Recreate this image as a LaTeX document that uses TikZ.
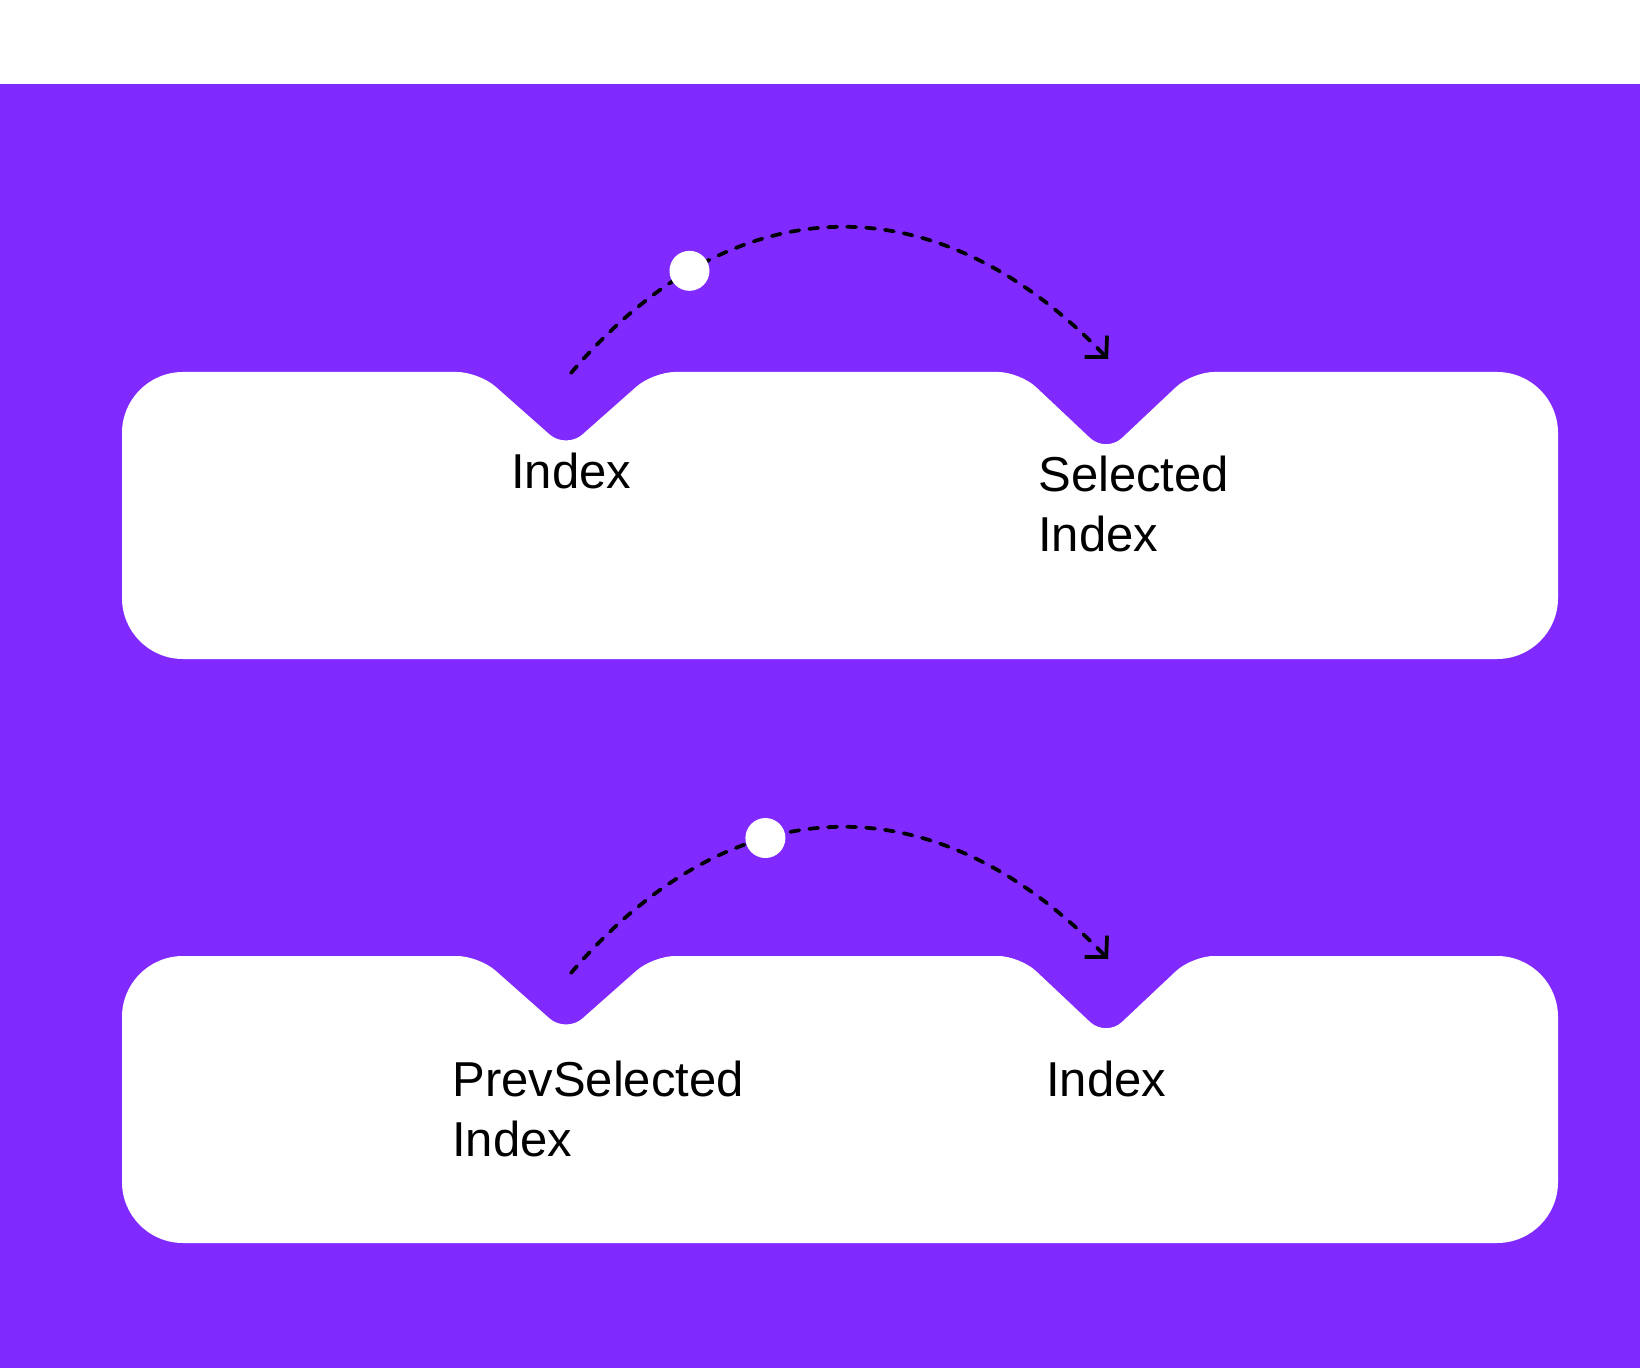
\documentclass[tikz,border=0pt]{standalone}
\usepackage{fontspec}
\setmainfont{Liberation Sans}
\usetikzlibrary{arrows.meta}
\definecolor{TabPurple}{RGB}{128,42,255}

\begin{document}
\begin{tikzpicture}[x=0.02cm, y=-0.02cm,
    tab/.style={fill=white},
    lbl/.style={anchor=north west, inner sep=0pt, align=left,
                font=\fontsize{27.9}{34.1}\selectfont},
    flow/.style={black, line width=0.075cm, line cap=round,
                 dash pattern=on 0.18cm off 0.2cm,
                 -{Straight Barb[length=0.3cm, width=0.62cm]}},
    knob/.style={circle, fill=white, minimum size=0.8cm, inner sep=0pt}
  ]
  \fill[white] (0,0) rectangle (1640,1368);
  \fill[TabPurple] (0,84) rectangle (1640,1368);

  % two tab bars with notches
  \foreach \dy in {0,584}{
    \fill[tab, shift={(0,\dy)}] (122,515)
      [rounded corners=1.22cm] -- (122,372) -- (300,372)
      [rounded corners=0.44cm] -- (479,372) -- (566,449) -- (653,372)
        -- (1020,372) -- (1106,453) -- (1192,372) -- (1380,372)
      [rounded corners=1.22cm] -- (1558,372) -- (1558,659) -- (122,659) -- cycle;
  }

  \coordinate (src1) at (571,373);
  \coordinate (dst1) at (1108,359);
  \coordinate (src2) at (571,973);
  \coordinate (dst2) at (1108,959);

  \draw[flow] (src1) .. controls +(164,-192) and +(-170,-178) .. (dst1)
        node[knob, pos=0.23] (knob1) {};
  \draw[flow] (src2) .. controls +(164,-192) and +(-170,-178) .. (dst2)
        node[knob, pos=0.37] (knob2) {};

  \node[lbl] (idx1)  at (511,453)  {Index};
  \node[lbl] (sel1)  at (1038,456) {Selected\\Index};
  \node[lbl] (prev2) at (452,1061) {PrevSelected\\Index};
  \node[lbl] (idx2)  at (1046,1061) {Index};
\end{tikzpicture}
\end{document}
